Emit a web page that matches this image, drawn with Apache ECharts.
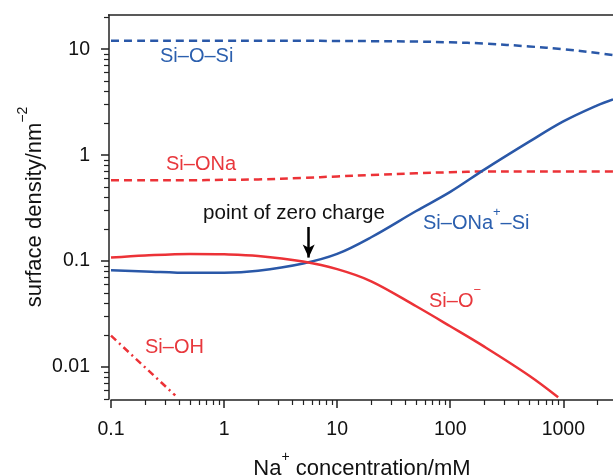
<!DOCTYPE html>
<html>
<head>
<meta charset="utf-8">
<script src="https://cdn.jsdelivr.net/npm/echarts@6/dist/echarts.min.js"></script>
<style>
  html, body { margin: 0; padding: 0; background: #fff; }
  #chart { width: 613px; height: 476px; }
</style>
</head>
<body>
<div id="chart"></div>
<script>
// Na+ concentration (mM) vs surface density (nm^-2), log-log
const siOSiX = [0.1, 0.2, 0.5, 1, 2, 5, 10, 20, 50, 100, 200, 500, 1000, 2000, 2750]
const siOSiY = [12.0, 12.0, 12.0, 12.0, 12.0, 12.0, 11.95, 11.9, 11.8, 11.6, 11.3, 10.6, 10.0, 9.2, 8.8]

const siONaX = [0.1, 0.2, 0.5, 1, 2, 5, 10, 20, 50, 100, 200, 500, 1000, 2000, 2750]
const siONaY = [0.58, 0.58, 0.58, 0.585, 0.59, 0.61, 0.63, 0.65, 0.675, 0.69, 0.70, 0.70, 0.70, 0.70, 0.70]

const siONaSiX = [0.1, 0.2, 0.5, 1, 2, 5, 10, 20, 50, 100, 200, 500, 1000, 2000, 2750]
const siONaSiY = [0.082, 0.080, 0.0775, 0.0775, 0.081, 0.095, 0.117, 0.168, 0.297, 0.45, 0.73, 1.34, 2.08, 2.95, 3.36]

const siOX = [0.1, 0.2, 0.5, 1, 2, 5, 10, 20, 50, 100, 200, 500, 900]
const siOY = [0.108, 0.113, 0.117, 0.116, 0.112, 0.099, 0.084, 0.0645, 0.0375, 0.0243, 0.0156, 0.0083, 0.0052]

const siOHX = [0.1, 0.37]
const siOHY = [0.0198, 0.0054]

const pzcX = 5.6
const pzcArrowY = [0.21, 0.108]

const xMajor = [0.1, 1, 10, 100, 1000]
const xMinor = [0.2, 0.3, 0.4, 0.5, 0.6, 0.7, 0.8, 0.9, 2, 3, 4, 5, 6, 7, 8, 9,
  20, 30, 40, 50, 60, 70, 80, 90, 200, 300, 400, 500, 600, 700, 800, 900, 2000]
const yMajor = [0.01, 0.1, 1, 10]
const yMinor = [0.005, 0.006, 0.007, 0.008, 0.009, 0.02, 0.03, 0.04, 0.05, 0.06, 0.07, 0.08, 0.09,
  0.2, 0.3, 0.4, 0.5, 0.6, 0.7, 0.8, 0.9, 2, 3, 4, 5, 6, 7, 8, 9, 20]

const X_MIN = 0.1, X_MAX = 2750, Y_MIN = 0.005, Y_MAX = 21

const BLUE = '#2a58a8'
const RED = '#ec3237'
const BLUE_TXT = '#2b5fae'
const RED_TXT = '#e8383d'
const FONT = 'Liberation Sans, Arial, sans-serif'
const FS_TICK = 19.5
const FS_NAME = 22
const FS_NOTE = 20

const sup = { fontSize: 14, fontFamily: FONT, lineHeight: 14, padding: [0, 0, 24, 0] }
const supNote = { fontSize: 13, fontFamily: FONT, lineHeight: 13, padding: [0, 0, 22, 0] }

const zip = (xs, ys) => xs.map((x, i) => [x, ys[i]])
const fmt = v => String(+(+v).toPrecision(4))

const chart = echarts.init(document.getElementById('chart'), null, { renderer: 'canvas' })

const baseX = {
  type: 'log', logBase: 10, min: X_MIN, max: X_MAX, position: 'bottom', offset: 1,
  splitLine: { show: false }, minorTick: { show: false }
}
const baseY = {
  type: 'log', logBase: 10, min: Y_MIN, max: Y_MAX, position: 'left', offset: 2,
  splitLine: { show: false }, minorTick: { show: false }
}

function label(text, left, top, color, size, rich) {
  return {
    type: 'text', left, top,
    style: {
      text, fill: color, font: `${size}px ${FONT}`, textVerticalAlign: 'middle',
      rich: rich || {}
    }
  }
}

chart.setOption({
  animation: false,
  grid: { left: 111, right: 0, top: 15, bottom: 77, containLabel: false, outerBoundsMode: 'none' },
  xAxis: [
    {
      ...baseX,
      axisLine: { show: true, onZero: false, lineStyle: { color: '#222', width: 1.5 } },
      axisTick: { show: true, length: 8, customValues: xMajor, lineStyle: { color: '#222', width: 1.5 } },
      axisLabel: { customValues: xMajor, formatter: fmt, color: '#111', fontSize: FS_TICK, fontFamily: FONT, margin: 20 },
      name: 'Na{sup|+} concentration/mM',
      nameLocation: 'middle', nameGap: 58,
      nameTextStyle: { color: '#111', fontSize: FS_NAME, fontFamily: FONT, rich: { sup } }
    },
    {
      ...baseX,
      axisLine: { show: false, onZero: false },
      axisTick: { show: true, length: 5, customValues: xMinor, lineStyle: { color: '#222', width: 1.2 } },
      axisLabel: { show: false }
    }
  ],
  yAxis: [
    {
      ...baseY,
      axisLine: { show: true, onZero: false, lineStyle: { color: '#222', width: 1.5 } },
      axisTick: { show: true, length: 8, customValues: yMajor, lineStyle: { color: '#222', width: 1.5 } },
      axisLabel: { customValues: yMajor, formatter: fmt, color: '#111', fontSize: FS_TICK, fontFamily: FONT, margin: 19 },
      name: 'surface density/nm{sup|−2}',
      nameLocation: 'middle', nameGap: 63, nameRotate: 90, nameMoveOverlap: false,
      nameTextStyle: { color: '#111', fontSize: FS_NAME, fontFamily: FONT, rich: { sup } }
    },
    {
      ...baseY,
      axisLine: { show: false, onZero: false },
      axisTick: { show: true, length: 5, customValues: yMinor, lineStyle: { color: '#222', width: 1.2 } },
      axisLabel: { show: false }
    }
  ],
  series: [
    {
      name: 'Si–O–Si', type: 'line', data: zip(siOSiX, siOSiY), smooth: 0.35, showSymbol: false,
      lineStyle: { color: BLUE, width: 2.5, type: [8, 5] }
    },
    {
      name: 'Si–ONa', type: 'line', data: zip(siONaX, siONaY), smooth: 0.35, showSymbol: false,
      lineStyle: { color: RED, width: 2.5, type: [8, 5] }
    },
    {
      name: 'Si–ONa+–Si', type: 'line', data: zip(siONaSiX, siONaSiY), smooth: 0.35, showSymbol: false,
      lineStyle: { color: BLUE, width: 2.5 }
    },
    {
      name: 'Si–O−', type: 'line', data: zip(siOX, siOY), smooth: 0.35, showSymbol: false,
      lineStyle: { color: RED, width: 2.5 },
      markLine: {
        silent: true, symbol: ['none', 'arrow'], symbolSize: [9, 13],
        label: { show: false },
        lineStyle: { color: '#000', width: 2.5, type: 'solid' },
        data: [[{ coord: [pzcX, pzcArrowY[0]] }, { coord: [pzcX, pzcArrowY[1]] }]]
      }
    },
    {
      name: 'Si–OH', type: 'line', data: zip(siOHX, siOHY), showSymbol: false,
      lineStyle: { color: RED, width: 2.5, type: [7, 4, 2, 4] }
    }
  ],
  graphic: [
    { type: 'line', shape: { x1: 108, y1: 15, x2: 613, y2: 15 }, style: { stroke: '#222', lineWidth: 1.5 } },
    label('Si–O–Si', 160, 46, BLUE_TXT, FS_NOTE),
    label('Si–ONa', 166, 154, RED_TXT, FS_NOTE),
    label('point of zero charge', 203, 203, '#111', 20.6),
    label('Si–ONa{s|+}–Si', 423, 206, BLUE_TXT, FS_NOTE, { s: { ...supNote, fill: BLUE_TXT } }),
    label('Si–O{s|−}', 429, 284, RED_TXT, FS_NOTE, { s: { ...supNote, fill: RED_TXT } }),
    label('Si–OH', 145, 337, RED_TXT, FS_NOTE)
  ]
})
</script>
</body>
</html>
